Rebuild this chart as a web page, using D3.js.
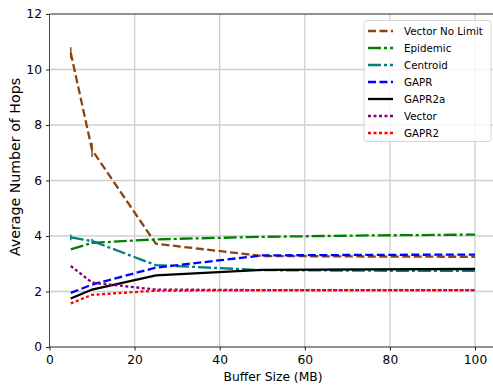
<!DOCTYPE html>
<html>
<head>
<meta charset="utf-8">
<script src="https://cdn.jsdelivr.net/npm/d3@7"></script>
<style>
  body { margin: 0; background: #fff; }
  text { font-family: "DejaVu Sans", sans-serif; fill: #000; }
</style>
</head>
<body>
<script>
// Data
var bufferSizes = [5, 10, 25, 50, 75, 100];
var vectorNoLimit = [10.6, 7.1, 3.72, 3.28, 3.26, 3.25];
var epidemic = [3.52, 3.75, 3.88, 3.97, 4.02, 4.05];
var centroid = [3.95, 3.82, 2.95, 2.77, 2.75, 2.74];
var gapr = [1.95, 2.25, 2.86, 3.3, 3.32, 3.33];
var gapr2a = [1.75, 2.07, 2.58, 2.78, 2.8, 2.81];
var vector = [2.92, 2.32, 2.07, 2.05, 2.05, 2.05];
var gapr2 = [1.57, 1.88, 2.03, 2.05, 2.05, 2.05];
var vectorNoLimitErr = [0.2, 0.25, 0, 0, 0, 0];
var centroidErr = [0.1, 0.08, 0, 0, 0, 0];
var xTicks = [0, 20, 40, 60, 80, 100];
var yTicks = [0, 2, 4, 6, 8, 10, 12];

var series = [
  {name: "Vector No Limit", values: vectorNoLimit, err: vectorNoLimitErr, color: "#8b4513", dash: "8,3.5"},
  {name: "Epidemic", values: epidemic, color: "#008000", dash: "13,3,3,3"},
  {name: "Centroid", values: centroid, err: centroidErr, color: "#008080", dash: "13,3,3,3"},
  {name: "GAPR", values: gapr, color: "#0000ff", dash: "8,3.5"},
  {name: "GAPR2a", values: gapr2a, color: "#000000", dash: null},
  {name: "Vector", values: vector, color: "#800080", dash: "3,2.5"},
  {name: "GAPR2", values: gapr2, color: "#ff0000", dash: "3,2.5"}
];

var W = 493, H = 386;
var pLeft = 49.5, pRight = 475, pTop = 14, pBottom = 347;

var svg = d3.select("body")
  .append("svg")
    .attr("width", W)
    .attr("height", H);

var x = d3.scaleLinear().domain([0, 100]).range([pLeft, pRight]);
var y = d3.scaleLinear().domain([0, 12]).range([pBottom, pTop]);

// Grid
svg.append("g")
  .selectAll("line")
  .data(xTicks.slice(1))
  .enter().append("line")
    .attr("x1", d => x(d)).attr("x2", d => x(d))
    .attr("y1", pTop).attr("y2", pBottom)
    .attr("stroke", "#cfcfcf").attr("stroke-width", 1.3);
svg.append("g")
  .selectAll("line")
  .data(yTicks.slice(1, -1))
  .enter().append("line")
    .attr("x1", pLeft).attr("x2", W)
    .attr("y1", d => y(d)).attr("y2", d => y(d))
    .attr("stroke", "#cfcfcf").attr("stroke-width", 1.3);

// Axes
var xAxis = svg.append("g")
  .attr("transform", "translate(0," + pBottom + ")")
  .call(d3.axisBottom(x).tickValues(xTicks).tickSize(3.5).tickPadding(5).tickFormat(d3.format("d")));
var yAxis = svg.append("g")
  .attr("transform", "translate(" + pLeft + ",0)")
  .call(d3.axisLeft(y).tickValues(yTicks).tickSize(3.5).tickPadding(4).tickFormat(d3.format("d")));
[xAxis, yAxis].forEach(function(a) {
  a.select(".domain").remove();
  a.selectAll("text").style("font-size", "12.3px").style("font-family", "DejaVu Sans");
  a.selectAll("line").attr("stroke", "#222");
});
svg.append("line").attr("x1", pLeft).attr("x2", W).attr("y1", pBottom).attr("y2", pBottom)
  .attr("stroke", "#222").attr("stroke-width", 1);
svg.append("line").attr("x1", pLeft).attr("x2", W).attr("y1", pTop).attr("y2", pTop)
  .attr("stroke", "#222").attr("stroke-width", 1);
svg.append("line").attr("x1", pLeft).attr("x2", pLeft).attr("y1", pTop).attr("y2", pBottom)
  .attr("stroke", "#444").attr("stroke-width", 1);

// Axis labels
svg.append("text")
  .attr("x", 273)
  .attr("y", 381)
  .attr("text-anchor", "middle")
  .style("font-size", "12.3px")
  .text("Buffer Size (MB)");
svg.append("text")
  .attr("transform", "translate(20,167) rotate(-90)")
  .attr("text-anchor", "middle")
  .style("font-size", "14.2px")
  .text("Average Number of Hops");

// Lines
var line = d3.line()
  .x(function(d, i) { return x(bufferSizes[i]); })
  .y(function(d) { return y(d); });

series.forEach(function(s) {
  svg.append("path")
    .datum(s.values)
    .attr("d", line)
    .attr("fill", "none")
    .attr("stroke", s.color)
    .attr("stroke-width", 2.3)
    .attr("stroke-dasharray", s.dash);
  if (s.err) {
    svg.append("g")
      .selectAll("line")
      .data(s.values.map(function(v, i) { return {x: bufferSizes[i], v: v, e: s.err[i]}; }).filter(d => d.e > 0))
      .enter().append("line")
        .attr("x1", d => x(d.x)).attr("x2", d => x(d.x))
        .attr("y1", d => y(d.v - d.e)).attr("y2", d => y(d.v + d.e))
        .attr("stroke", s.color).attr("stroke-width", 1.5);
  }
});

// Legend
var lg = svg.append("g");
lg.append("rect")
  .attr("x", 364).attr("y", 20.5)
  .attr("width", 127).attr("height", 121)
  .attr("rx", 3)
  .attr("fill", "#fff").attr("fill-opacity", 0.8)
  .attr("stroke", "#d6d6d6").attr("stroke-width", 1);
series.forEach(function(s, i) {
  var yy = 31 + i * 17;
  lg.append("line")
    .attr("x1", 368).attr("x2", 393)
    .attr("y1", yy).attr("y2", yy)
    .attr("stroke", s.color).attr("stroke-width", 2.3)
    .attr("stroke-dasharray", s.dash);
  lg.append("text")
    .attr("x", 404).attr("y", yy + 3.7)
    .style("font-size", "10.3px")
    .text(s.name);
});
</script>
</body>
</html>
